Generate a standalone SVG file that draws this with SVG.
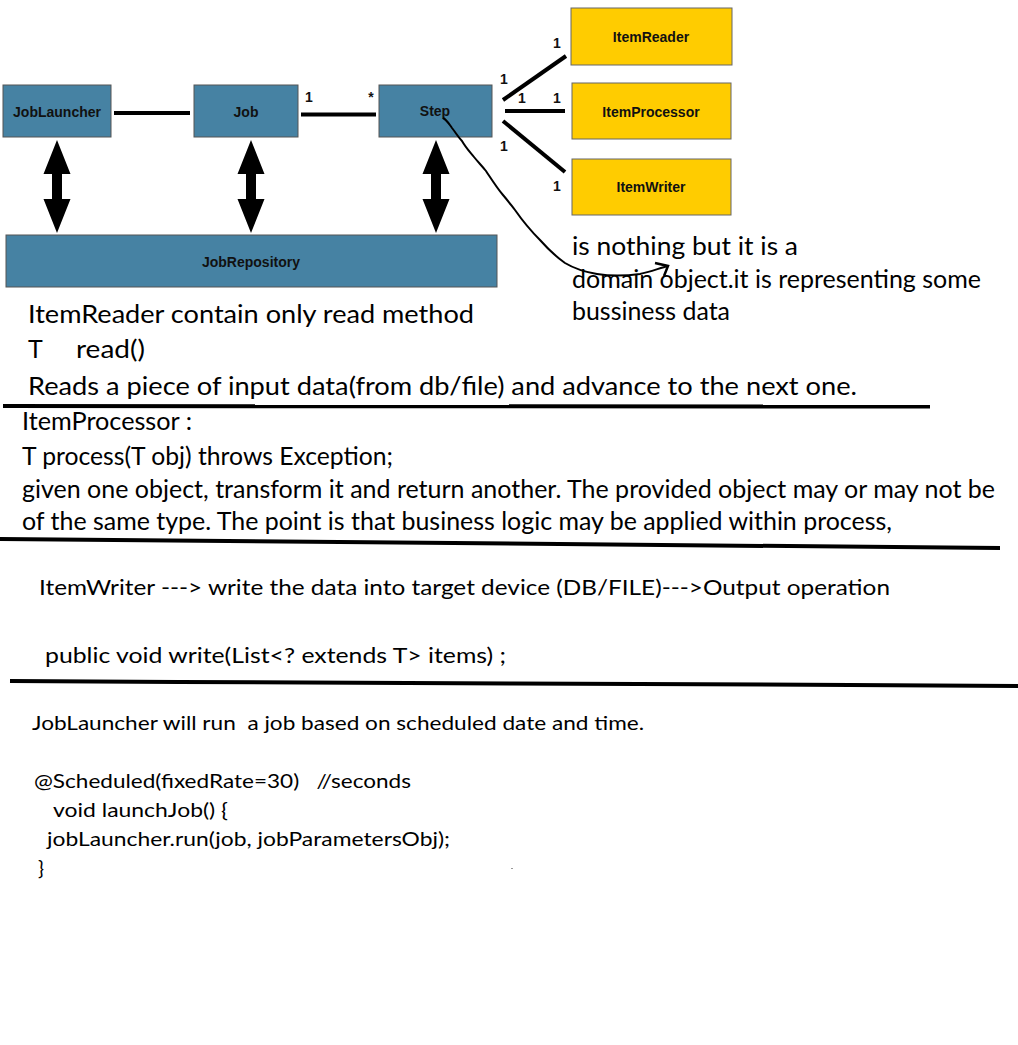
<svg xmlns="http://www.w3.org/2000/svg" width="1018" height="1045" viewBox="0 0 1018 1045">
<style>
.blue{fill:#4682a3;stroke:#555;stroke-width:1}
.gold{fill:#ffcc00;stroke:#666;stroke-width:1}
.lbl{font-family:"Liberation Sans",Arial,sans-serif;font-weight:bold;font-size:14px;fill:#111;text-anchor:middle}
.ilbl{font-family:"Liberation Sans",Arial,sans-serif;font-weight:bold;font-size:14px;fill:#111;text-anchor:middle}
.m{font-family:"Liberation Sans",Arial,sans-serif;font-weight:bold;font-size:14px;fill:#111;text-anchor:middle}
.ln{stroke:#000;stroke-width:4;fill:none}
.t{font-family:Lato,"Open Sans",sans-serif;fill:#000;white-space:pre}
.t25{font-size:25px}
.t22{font-size:22px}
.t20{font-size:20px}
.rule{stroke:#000;stroke-width:4;fill:none}
</style>
<defs>
<path id="dbl" d="M0,-46.5 L13.5,-12.5 L5,-12.5 L5,12.5 L13.5,12.5 L0,46.5 L-13.5,12.5 L-5,12.5 L-5,-12.5 L-13.5,-12.5 Z" fill="#000"/>
</defs>
<rect width="1018" height="1045" fill="#fff"/>

<g id="JobLauncher"><rect class="blue" x="3" y="85" width="108" height="52"/><text class="lbl" x="57" y="117">JobLauncher</text></g>
<g id="Job"><rect class="blue" x="194" y="85" width="104" height="52"/><text class="lbl" x="246" y="117">Job</text></g>
<g id="Step"><rect class="blue" x="379" y="85" width="113" height="52"/><text class="lbl" x="435" y="116">Step</text></g>
<g id="JobRepository"><rect class="blue" x="6" y="235" width="491" height="52"/><text class="lbl" x="251" y="267">JobRepository</text></g>
<g id="ItemReader"><rect class="gold" x="571" y="8" width="161" height="57"/><text class="ilbl" x="651" y="42">ItemReader</text></g>
<g id="ItemProcessor"><rect class="gold" x="572" y="83" width="159" height="56"/><text class="ilbl" x="651" y="117">ItemProcessor</text></g>
<g id="ItemWriter"><rect class="gold" x="572" y="159" width="159" height="56"/><text class="ilbl" x="651" y="192">ItemWriter</text></g>

<g id="connectors">
<line class="ln" x1="114" y1="113" x2="190" y2="113"/>
<line class="ln" x1="301" y1="114.5" x2="376" y2="114.5"/>
<line class="ln" x1="503" y1="100" x2="566" y2="56"/>
<line class="ln" x1="505" y1="111" x2="565" y2="111"/>
<line class="ln" x1="503" y1="121" x2="565" y2="172"/>
<use href="#dbl" x="57" y="186.5"/>
<use href="#dbl" x="251" y="186.5"/>
<use href="#dbl" x="436" y="186.5"/>
<text class="m" x="309" y="102">1</text>
<text class="m" x="371" y="102">*</text>
<text class="m" x="557" y="48">1</text>
<text class="m" x="504" y="84">1</text>
<text class="m" x="522" y="103">1</text>
<text class="m" x="557" y="103">1</text>
<text class="m" x="504" y="151">1</text>
<text class="m" x="557" y="191">1</text>
<path d="M443,118 C447,120 449,124 452,128 C456,133 458,137 462,141 C466,148 470,152 474,157 C478,162 482,166 486,171 C492,180 497,188 503,195 C509,202 511,205 515,210 C522,220 530,230 540,240 C548,249 555,256 565,263 C575,269 585,272 597,274 C610,276 625,276 640,274 C650,272 660,268 668,266" fill="none" stroke="#000" stroke-width="2"/>
<path d="M655,263 L668,266 L664,276" fill="none" stroke="#000" stroke-width="2.5"/>
</g>

<g id="notes">
<text class="t t25" x="572" y="255" textLength="226" lengthAdjust="spacingAndGlyphs">is nothing but it is a</text>
<text class="t t25" x="572" y="288" textLength="409" lengthAdjust="spacingAndGlyphs">domain object.it is representing some</text>
<text class="t t25" x="572" y="320" textLength="158" lengthAdjust="spacingAndGlyphs">bussiness data</text>

<text class="t t25" x="28" y="323" textLength="446" lengthAdjust="spacingAndGlyphs">ItemReader contain only read method</text>
<text class="t t25" x="28" y="358">T</text>
<text class="t t25" x="76" y="358" textLength="69" lengthAdjust="spacingAndGlyphs">read()</text>
<text class="t t25" x="28" y="395" textLength="829" lengthAdjust="spacingAndGlyphs">Reads a piece of input data(from db/file) and advance to the next one.</text>
<line class="rule" x1="3" y1="406" x2="930" y2="406.5"/>

<text class="t t25" x="22" y="430" textLength="170" lengthAdjust="spacingAndGlyphs">ItemProcessor :</text>
<text class="t t25" x="22" y="465" textLength="371" lengthAdjust="spacingAndGlyphs">T process(T obj) throws Exception;</text>
<text class="t t25" x="22" y="498" textLength="973" lengthAdjust="spacingAndGlyphs">given one object, transform it and return another. The provided object may or may not be</text>
<text class="t t25" x="22" y="530" textLength="870" lengthAdjust="spacingAndGlyphs">of the same type. The point is that business logic may be applied within process,</text>
<line class="rule" x1="0" y1="539" x2="1000" y2="548"/>

<text class="t t22" x="39" y="595" textLength="851" lengthAdjust="spacingAndGlyphs">ItemWriter ---&gt; write the data into target device (DB/FILE)---&gt;Output operation</text>
<text class="t t22" x="45" y="663" textLength="461" lengthAdjust="spacingAndGlyphs">public void write(List&lt;? extends T&gt; items) ;</text>
<polyline class="rule" points="10,681 178,682 513,683.5 850,685 1018,686"/>

<text class="t t20" x="32" y="730" textLength="612" lengthAdjust="spacingAndGlyphs">JobLauncher will run  a job based on scheduled date and time.</text>
<text class="t t20" x="34" y="788" textLength="377" lengthAdjust="spacingAndGlyphs">@Scheduled(fixedRate=30)   //seconds</text>
<text class="t t20" x="53" y="817" textLength="175" lengthAdjust="spacingAndGlyphs">void launchJob() {</text>
<text class="t t20" x="47" y="846" textLength="403" lengthAdjust="spacingAndGlyphs">jobLauncher.run(job, jobParametersObj);</text>
<text class="t t20" x="38" y="875">}</text>
<rect x="511" y="868" width="2" height="1" fill="#999"/>
</g>
</svg>
